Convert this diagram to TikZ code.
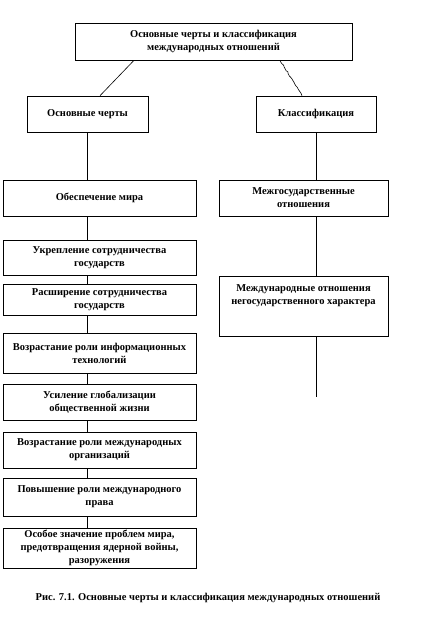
\documentclass[tikz,border=0pt]{standalone}
\usepackage{fontspec}
\setmainfont{Liberation Serif}
\usetikzlibrary{decorations.pathmorphing}
\begin{document}
\begin{tikzpicture}[x=1pt, y=-1pt, every node/.style={font=\fontsize{10.5}{13}\selectfont\bfseries}]
    \tikzstyle{box} = [rectangle, draw, align=center, line width=0.6pt, inner sep=2pt]
    \tikzstyle{feat} = [box, minimum width=193pt]
    \tikzstyle{kind} = [box, minimum width=169pt]
    \tikzstyle{line} = [line width=0.6pt]
    \useasboundingbox (0,0) rectangle (435,624);

    \node [box, minimum width=277pt, minimum height=37pt] (main) at (213.5,41.5) {Основные черты и классификация\\международных отношений};
    \node [box, minimum width=121pt, minimum height=36pt] (traits) at (87.5,114) {Основные черты};
    \node [box, minimum width=120pt, minimum height=36pt] (kinds)  at (316,114)  {Классификация};

    % основные черты
    \node [feat, minimum height=36pt] (peace)   at (99.5,198)   {Обеспечение мира};
    \node [feat, minimum height=35pt] (coop)    at (99.5,257.5) {Укрепление сотрудничества\\государств};
    \node [feat, minimum height=31pt] (expand)  at (99.5,300)   {Расширение сотрудничества\\государств};
    \node [feat, minimum height=40pt] (infotech) at (99.5,353)  {Возрастание роли информационных\\технологий};
    \node [feat, minimum height=36pt] (global)  at (99.5,402)   {Усиление глобализации\\общественной жизни};
    \node [feat, minimum height=36pt] (orgs)    at (99.5,450)   {Возрастание роли международных\\организаций};
    \node [feat, minimum height=38pt] (law)     at (99.5,497)   {Повышение роли международного\\права};
    \node [feat, minimum height=40pt] (nuclear) at (99.5,548)   {Особое значение проблем мира,\\предотвращения ядерной войны,\\разоружения};

    % классификация
    \node [kind, minimum height=36pt] (inter)  at (303.5,198) {Межгосударственные\\отношения};
    \node [kind, minimum height=60pt] (nongov) at (303.5,306) {};
    \node [anchor=north, align=center, inner sep=0pt] (nongovtext) at ([yshift=-9pt]nongov.north) {Международные отношения\\негосударственного характера};
    \coordinate (tail) at (316,397);

    \node (caption) at (208,598) {Рис. 7.1. Основные черты и классификация международных отношений};

    \draw [line] ([xshift=-79.5pt]main.south) -- ([xshift=12.5pt]traits.north);
    \draw [line, decorate, decoration={random steps, segment length=2pt, amplitude=0.6pt}] ([xshift=66.5pt]main.south) -- ([xshift=-14pt]kinds.north);

    \draw [line] (traits.south) -- (traits.south |- peace.north);
    \draw [line] (traits.south |- peace.south) -- (traits.south |- coop.north);
    \draw [line] (traits.south |- coop.south) -- (traits.south |- expand.north);
    \draw [line] (traits.south |- expand.south) -- (traits.south |- infotech.north);
    \draw [line] (traits.south |- infotech.south) -- (traits.south |- global.north);
    \draw [line] (traits.south |- global.south) -- (traits.south |- orgs.north);
    \draw [line] (traits.south |- orgs.south) -- (traits.south |- law.north);
    \draw [line] (traits.south |- law.south) -- (traits.south |- nuclear.north);

    \draw [line] (kinds.south) -- (kinds.south |- inter.north);
    \draw [line] (kinds.south |- inter.south) -- (kinds.south |- nongov.north);
    \draw [line] (kinds.south |- nongov.south) -- (tail);
\end{tikzpicture}
\end{document}
